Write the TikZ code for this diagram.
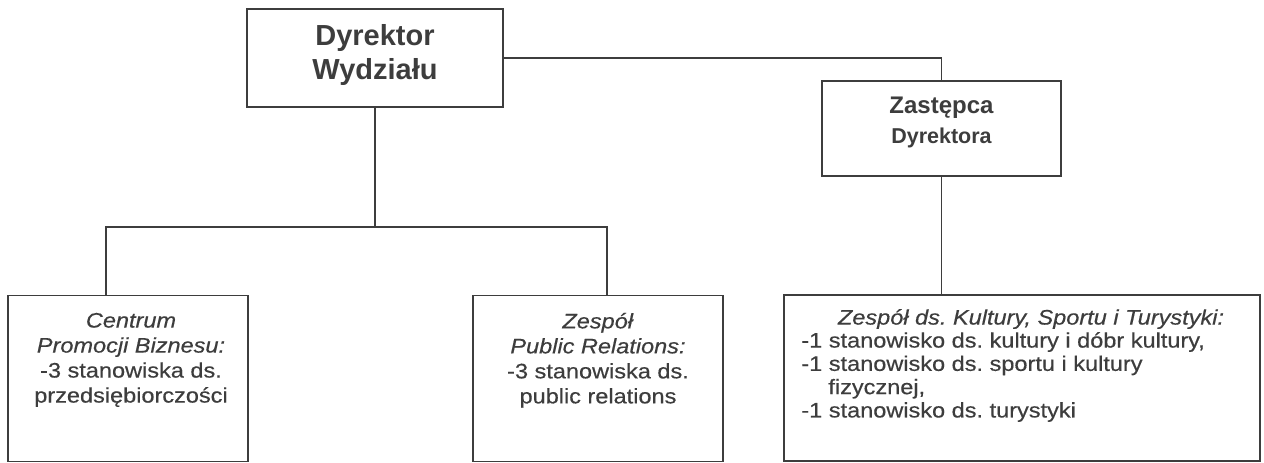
\documentclass[tikz,border=0pt]{standalone}
\usepackage{fontspec}
\setmainfont{Liberation Sans}
\newfontfamily\bodyfont[FakeStretch=1.12,FakeBold=0.4]{Liberation Sans}
\definecolor{ink}{gray}{0.24}
\frenchspacing
\begin{document}
\begin{tikzpicture}[x=1pt,y=-1pt,
  box/.style={draw=ink, line width=1.6pt, rectangle, inner sep=0pt},
  conn/.style={draw=ink, line width=1.6pt},
  body/.style={text=ink, inner sep=0pt, font=\bodyfont\frenchspacing\fontsize{21}{25}\selectfont},
  listtext/.style={text=ink, inner sep=0pt, font=\bodyfont\frenchspacing\fontsize{21}{23.3}\selectfont},
  title/.style={text=ink, inner sep=0pt}]
\fill[white] (0,0) rectangle (1264,463);
\useasboundingbox (0,0) rectangle (1264,463);

% boxes
\node[box, minimum width=256pt, minimum height=98pt] (d) at (375,58) {};
\node[box, minimum width=239pt, minimum height=95pt] (z) at (941.5,128.5) {};
\node[box, minimum width=240pt, minimum height=166pt] (c) at (128,378.5) {};
\node[box, minimum width=250pt, minimum height=166pt] (p) at (598,378.5) {};
\node[box, minimum width=476pt, minimum height=166pt] (k) at (1022,378) {};

% titles
\node[title, align=center, font=\bfseries\fontsize{29}{34}\selectfont, yshift=3pt] (dt) at (d) {Dyrektor\\Wydziału};
\node[title, align=center, font=\bfseries\fontsize{22}{30}\selectfont, yshift=6pt] (zt) at (z)
  {{\fontsize{24}{30}\selectfont Zastępca}\\{\fontsize{21.5}{30}\selectfont Dyrektora}};

% body texts
\node[body, align=center, anchor=north] (ct) at ([xshift=3pt,yshift=-18pt]c.north)
  {\textit{Centrum}\\\textit{Promocji Biznesu:}\\-3 stanowiska ds.\\przedsiębiorczości};
\node[body, align=center, anchor=north] (pt) at ([yshift=-18pt]p.north)
  {\textit{Zespół}\\\textit{Public Relations:}\\-3 stanowiska ds.\\public relations};
\node[body, anchor=north] (kh) at ([xshift=9pt,yshift=-14.7pt]k.north)
  {\textit{Zespół ds. Kultury, Sportu i Turystyki:}};
\node[listtext, align=left, anchor=north west] (kl) at ([xshift=18pt,yshift=-37.7pt]k.north west)
  {-1 stanowisko ds. kultury i dóbr kultury,\\-1 stanowisko ds. sportu i kultury\\\hspace*{27pt}fizycznej,\\-1 stanowisko ds. turystyki};

% connectors
\coordinate (jl) at (106,227);
\coordinate (jr) at (607,227);
\draw[conn] (d.east) -| (z.north);
\draw[conn] (d.south) -- (d.south |- jl);
\draw[conn] (jl |- c.north) -- (jl) -- (jr) -- (jr |- p.north);
\draw[conn] (z.south) -- (z.south |- k.north);
\end{tikzpicture}
\end{document}
